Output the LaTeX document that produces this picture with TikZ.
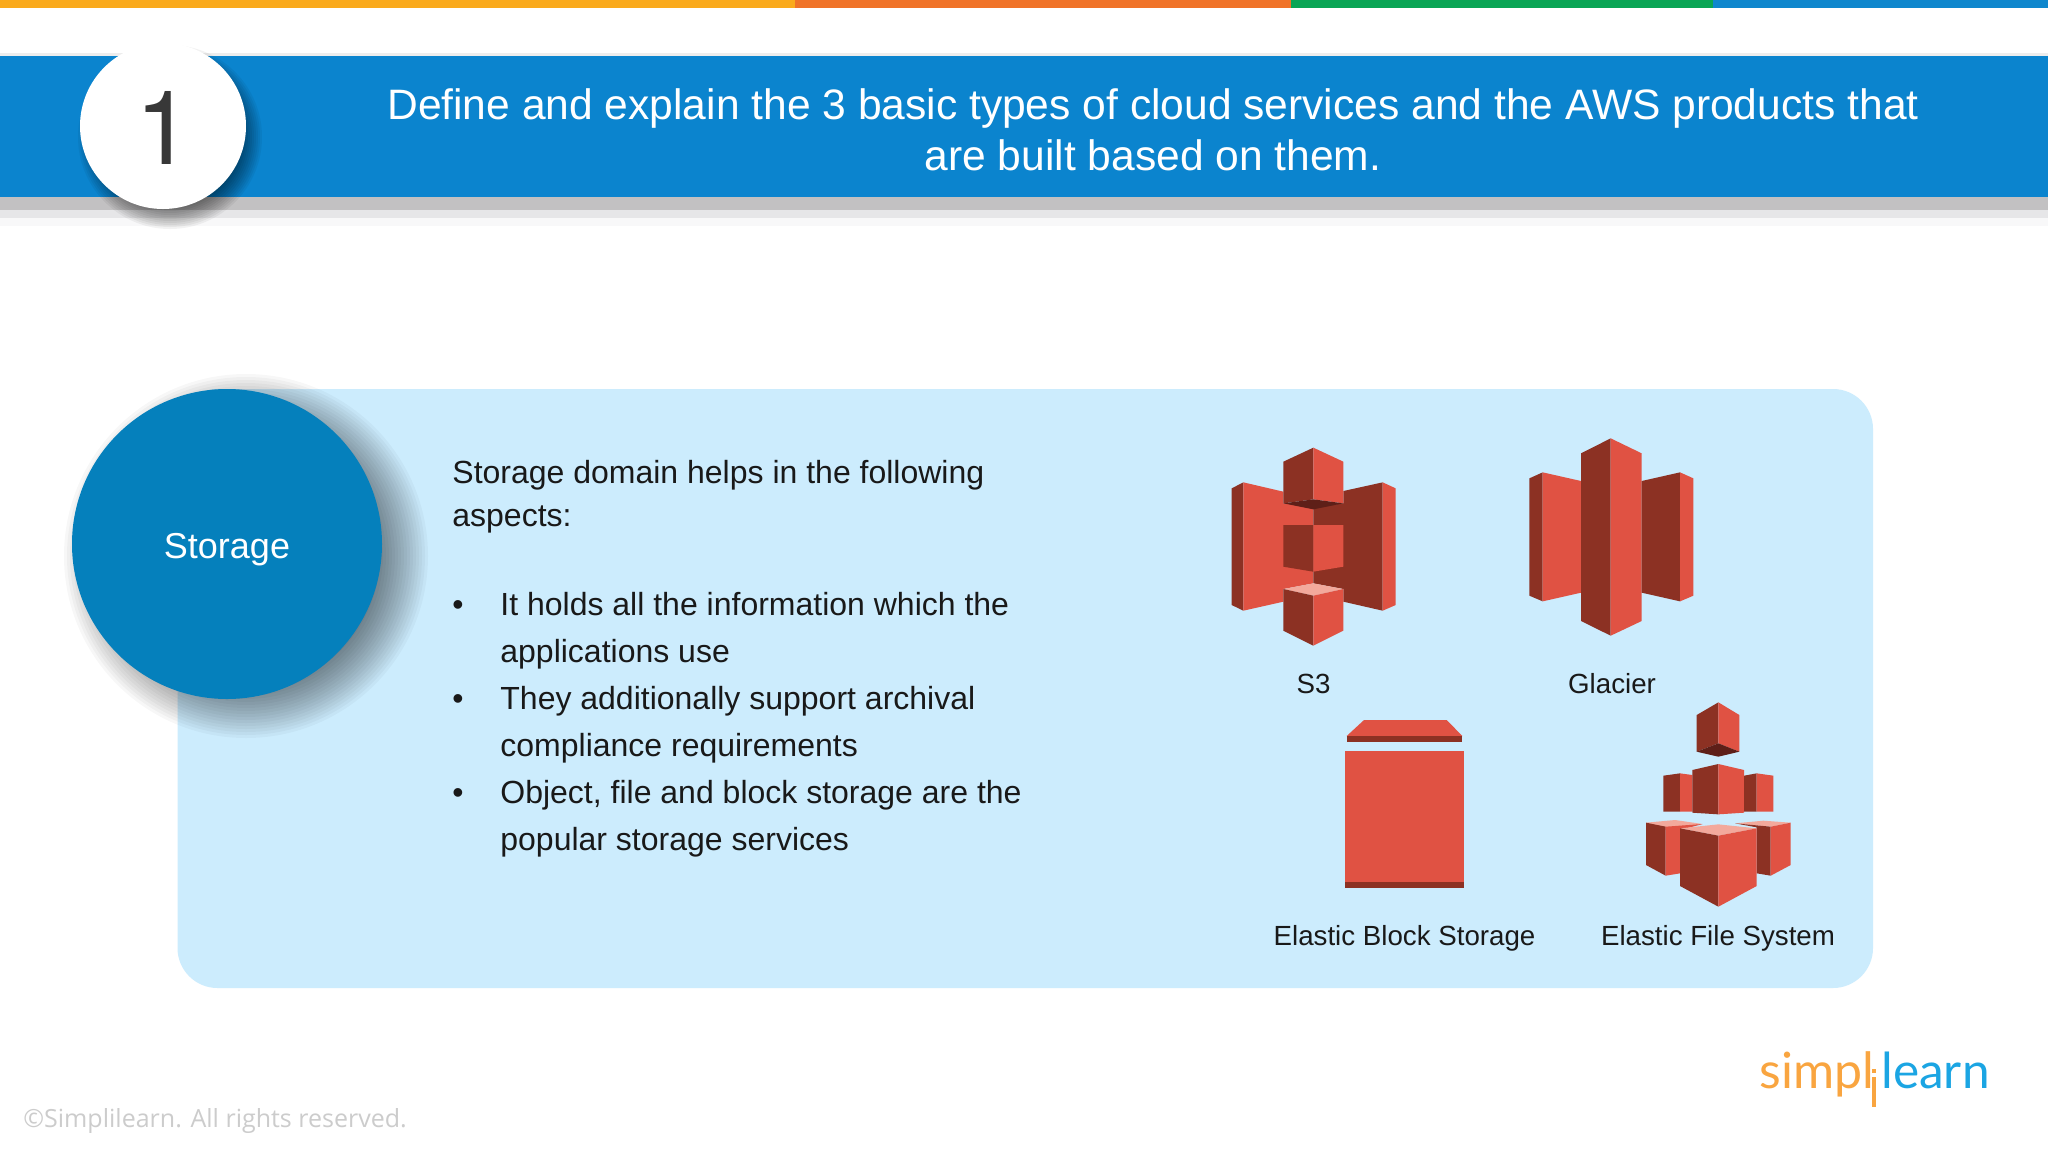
\documentclass[tikz,border=0pt]{standalone}
\usepackage{fontspec}
\setmainfont{Liberation Sans}
\newfontfamily\footfont{Open Sans}
\newfontfamily\logofont{Lato}
\newfontfamily\numfont{TeX Gyre Heros}
\definecolor{redL}{HTML}{E05243}
\definecolor{redD}{HTML}{8C3123}
\definecolor{redX}{HTML}{5E1F18}
\definecolor{redP}{HTML}{F3A99C}
\definecolor{hdr}{HTML}{0B84CE}
\definecolor{panel}{HTML}{CCECFD}
\definecolor{disc}{HTML}{0580BC}
\tikzset{
  txt/.style={inner sep=0pt,anchor=base west,text=black!90,font=\fontsize{16}{16}\selectfont},
  lbl/.style={inner sep=0pt,anchor=base,text=black!90,font=\fontsize{13.85}{14}\selectfont},
  ttl/.style={inner sep=0pt,anchor=base,text=white,font=\fontsize{21.28}{22}\selectfont},
  zoomA/.style={shift={(1200,420)},x=0.16667pt,y=-0.16667pt},
  zoomB/.style={shift={(1300,690)},x=0.16667pt,y=-0.16667pt},
}
\begin{document}
\begin{tikzpicture}[x=0.5pt,y=-0.5pt]
\useasboundingbox (0,0) rectangle (2048,1152);
\fill[white] (0,0) rectangle (2048,1152);
% top stripes
\fill[fill={rgb,255:red,250;green,170;blue,28}] (0,0) rectangle (795,8);
\fill[fill={rgb,255:red,240;green,115;blue,40}] (795,0) rectangle (1291,8);
\fill[fill={rgb,255:red,10;green,165;blue,85}] (1291,0) rectangle (1713,8);
\fill[fill={rgb,255:red,15;green,135;blue,205}] (1713,0) rectangle (2048,8);
% header band
\fill[black!7] (0,53) rectangle (2048,56);
\fill[fill={rgb,255:red,194;green,193;blue,194}] (0,197) rectangle (2048,210);
\fill[fill={rgb,255:red,230;green,230;blue,232}] (0,210) rectangle (2048,218);
\fill[fill={rgb,255:red,248;green,248;blue,249}] (0,218) rectangle (2048,226);
\fill[hdr] (0,55.5) rectangle (2048,197);
\foreach \r in {68,70,...,92} \fill[black,fill opacity=0.05] (170,137) circle[radius=\r];
\node[circle,fill=white,minimum size=83pt,inner sep=0pt] (numdisc) at (163,126) {};
\node[inner sep=0pt,anchor=base,text=black!78,font=\numfont\fontsize{51.5}{52}\selectfont] (numtxt) at (164,164) {1};
\node[ttl] (t1) at (1153,119) {Define and explain the 3 basic types of cloud services and the AWS products that};
\node[ttl] (t2) at (1153,170) {are built based on them.};
% panel
\fill[panel,rounded corners=20pt] (177.5,389) rectangle (1873,988);
\foreach \r in {125,128,...,183} \fill[black,fill opacity=0.033] (246,556) circle[radius=\r];
\node[circle,fill=disc,minimum size=155pt,inner sep=0pt] (stdisc) at (227,544) {};
\node[inner sep=0pt,anchor=base,text=white,font=\fontsize{18}{18}\selectfont] (sttxt) at (227,558) {Storage};
% body text
\node[txt] (b1) at (452,483) {Storage domain helps in the following};
\node[txt] (b2) at (452,526) {aspects:};
\node[txt] (d1) at (452,615) {•};
\node[txt] (l1) at (500,615) {It holds all the information which the};
\node[txt] (l2) at (500,662) {applications use};
\node[txt] (d2) at (452,709) {•};
\node[txt] (l3) at (500,709) {They additionally support archival};
\node[txt] (l4) at (500,756) {compliance requirements};
\node[txt] (d3) at (452,803) {•};
\node[txt] (l5) at (500,803) {Object, file and block storage are the};
\node[txt] (l6) at (500,850) {popular storage services};
% S3 icon
\begin{scope}[zoomA]
\fill[redD] (95,205)--(130,187)--(130,572)--(95,555)--cycle;
\fill[redL] (130,187)--(250,215)--(250,250)--(340,262)--(340,490)--(250,507)--(250,545)--(130,572)--cycle;
\fill[redD] (548,187)--(430,213)--(430,250)--(340,262)--(340,490)--(430,507)--(430,545)--(548,572)--cycle;
\fill[redL] (548,187)--(587,205)--(587,555)--(548,572)--cycle;
\fill[redD] (250,125)--(340,83)--(340,238)--(250,250)--cycle;
\fill[redL] (340,83)--(430,125)--(430,250)--(340,238)--cycle;
\fill[redX] (250,250)--(340,238)--(430,250)--(340,268)--cycle;
\fill[redD] (250,315)--(340,315)--(340,455)--(250,440)--cycle;
\fill[redL] (340,315)--(430,315)--(430,440)--(340,455)--cycle;
\fill[redP] (250,507)--(340,490)--(430,507)--(340,527)--cycle;
\fill[redD] (250,507)--(340,527)--(340,677)--(250,632)--cycle;
\fill[redL] (340,527)--(430,507)--(430,632)--(340,677)--cycle;
% Glacier icon
\fill[redD] (988,175)--(1028,157)--(1028,544)--(988,527)--cycle;
\fill[redL] (1028,157)--(1143,183)--(1143,518)--(1028,544)--cycle;
\fill[redD] (1143,100)--(1232,55)--(1232,647)--(1143,603)--cycle;
\fill[redL] (1232,55)--(1325,100)--(1325,603)--(1232,647)--cycle;
\fill[redD] (1325,183)--(1440,157)--(1440,544)--(1325,518)--cycle;
\fill[redL] (1440,157)--(1480,175)--(1480,527)--(1440,544)--cycle;
\end{scope}
\begin{scope}[zoomB]
% EBS icon
\fill[redL] (192,90)--(440,90)--(487,138)--(140,138)--cycle;
\fill[redD] (140,138) rectangle (487,157);
\fill[redL] (136,182) rectangle (493,575);
\fill[redD] (136,575) rectangle (493,593);
% EFS icon
\fill[redD] (1190,75)--(1255,37)--(1255,160)--(1190,185)--cycle;
\fill[redL] (1255,37)--(1318,75)--(1318,185)--(1255,160)--cycle;
\fill[redX] (1190,185)--(1255,160)--(1318,185)--(1255,200)--cycle;
\fill[redD] (1090,257)--(1140,250)--(1140,365)--(1090,365)--cycle;
\fill[redL] (1140,250)--(1177,255)--(1177,365)--(1140,365)--cycle;
\fill[redD] (1177,240)--(1255,222)--(1255,373)--(1177,368)--cycle;
\fill[redL] (1255,222)--(1332,240)--(1332,368)--(1255,373)--cycle;
\fill[redD] (1332,257)--(1370,250)--(1370,365)--(1332,365)--cycle;
\fill[redL] (1370,250)--(1420,257)--(1420,365)--(1370,365)--cycle;
\fill[redP] (1038,398)--(1125,390)--(1208,402)--(1097,420)--cycle;
\fill[redD] (1038,398)--(1097,410)--(1097,557)--(1038,525)--cycle;
\fill[redL] (1097,410)--(1208,402)--(1140,420)--(1140,550)--(1097,557)--cycle;
\fill[redP] (1305,400)--(1390,392)--(1472,398)--(1412,410)--cycle;
\fill[redD] (1305,400)--(1412,410)--(1412,557)--(1370,550)--(1370,412)--cycle;
\fill[redL] (1412,410)--(1472,398)--(1472,525)--(1412,557)--cycle;
\fill[redP] (1140,415)--(1255,403)--(1370,415)--(1255,437)--cycle;
\fill[redD] (1140,415)--(1255,437)--(1255,650)--(1140,588)--cycle;
\fill[redL] (1255,437)--(1370,415)--(1370,588)--(1255,650)--cycle;
\end{scope}
% icon labels
\node[lbl] (s3) at (1313.5,693) {S3};
\node[lbl] (gl) at (1612,693) {Glacier};
\node[lbl] (ebs) at (1404.5,945) {Elastic Block Storage};
\node[lbl] (efs) at (1718,945) {Elastic File System};
% footer
\node[inner sep=0pt,anchor=base west,text=black!20,font=\footfont\fontsize{12.5}{14}\selectfont] (copy) at (23,1127) {©Simplilearn. All rights reserved.};
% logo
\definecolor{logoO}{HTML}{F9A540}
\definecolor{logoB}{HTML}{1BA5E3}
\node[inner sep=0pt,anchor=base west,text=logoO,font=\logofont\fontsize{25}{25}\selectfont] (lg1) at (1759,1088) {simpl};
\fill[logoO] (1872,1068.5) rectangle (1876,1073);
\fill[logoO] (1872,1077) rectangle (1876,1107);
\node[inner sep=0pt,anchor=base west,text=logoB,font=\logofont\fontsize{24.8}{25}\selectfont] (lg2) at (1881,1088) {learn};
\end{tikzpicture}
\end{document}
